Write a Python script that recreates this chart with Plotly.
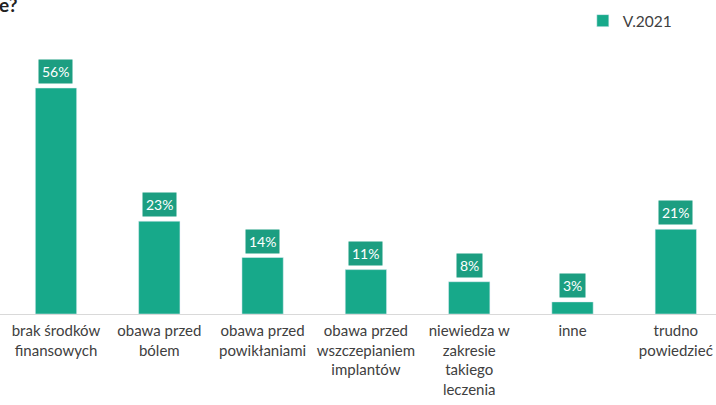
import plotly.graph_objects as go

categories = ["brak środków<br>finansowych", "obawa przed<br>bólem", "obawa przed<br>powikłaniami",
              "obawa przed<br>wszczepianiem<br>implantów", "niewiedza w<br>zakresie<br>takiego<br>leczenia",
              "inne", "trudno<br>powiedzieć"]
values = [56, 23, 14, 11, 8, 3, 21]
series_name = "V.2021"
title_fragment = "e?"

bar_color = "#17A98A"
label_bg = "#1C9E81"
text_color = "#404040"

xs = list(range(len(categories)))
fig = go.Figure()
fig.add_trace(go.Bar(x=xs, y=values, name=series_name, marker_color=bar_color, width=0.4,
                     showlegend=True, hoverinfo="skip"))

for x, v in zip(xs, values):
    fig.add_annotation(x=x, y=v, text=f"{v}%", showarrow=False, yanchor="bottom", yshift=4,
                       bgcolor=label_bg, font=dict(color="white", size=14, family="Lato"),
                       borderpad=3)

fig.add_annotation(xref="paper", yref="paper", x=-0.004, y=1.0, xanchor="left", yanchor="bottom",
                   yshift=22, text=f"<b>{title_fragment}</b>", showarrow=False,
                   font=dict(size=19, color="#222222", family="Lato"))

fig.update_layout(
    width=716, height=405,
    margin=dict(l=0, r=0, t=40, b=91, autoexpand=False),
    plot_bgcolor="white", paper_bgcolor="white",
    bargap=0.6,
    font=dict(family="Lato", size=15, color=text_color),
    legend=dict(x=0.814, y=0.99, xref="container", yref="container", xanchor="left", yanchor="top",
                font=dict(size=15.5, color=text_color),
                itemwidth=30, bgcolor="rgba(0,0,0,0)"),
    xaxis=dict(tickmode="array", tickvals=xs, ticktext=categories, range=[-0.542, 6.389],
               showline=True, linecolor="#D9D9D9", linewidth=1, ticks="", showgrid=False,
               automargin=False, ticklabelstandoff=3,
               tickfont=dict(size=15, color=text_color), fixedrange=True),
    yaxis=dict(range=[0, 67.9], visible=False, showgrid=False, fixedrange=True, automargin=False),
)

fig.write_html("out.html", config={"displayModeBar": False},
               post_script="document.body.style.margin='0';document.body.style.overflow='hidden';")
